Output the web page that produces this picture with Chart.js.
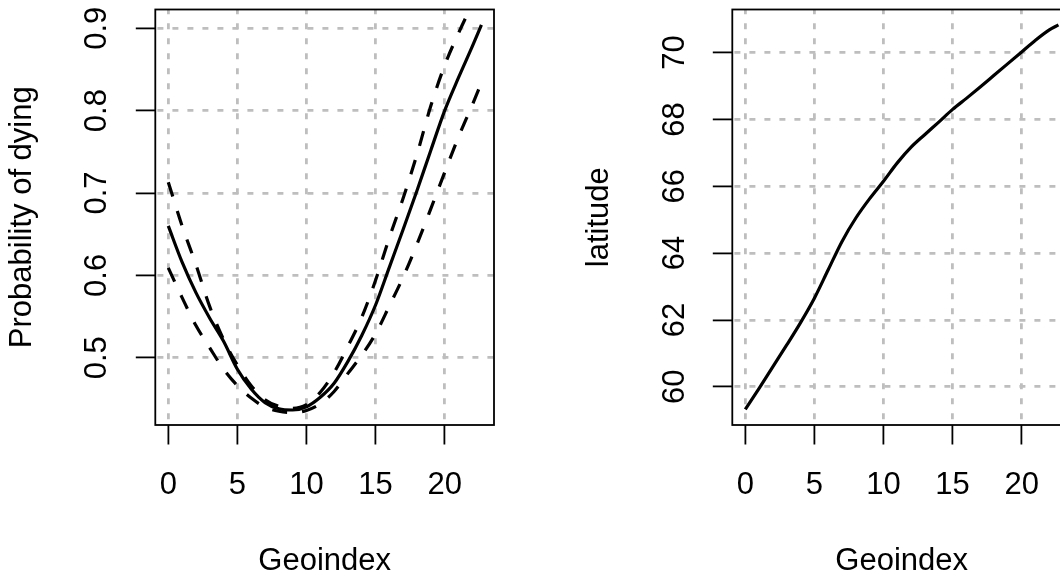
<!DOCTYPE html>
<html><head><meta charset="utf-8">
<script src="https://cdn.jsdelivr.net/npm/chart.js@4/dist/chart.umd.min.js"></script>
<style>
html,body{margin:0;padding:0;background:#fff;overflow:hidden;width:1060px;height:577px;position:relative;}
#p1{position:absolute;left:0;top:0;width:577px;height:577px;}
#p2{position:absolute;left:577px;top:0;width:577px;height:577px;}
canvas{display:block;}
</style></head><body>
<div id="p1"><canvas id="c1" width="577" height="577"></canvas></div>
<div id="p2"><canvas id="c2" width="577" height="577"></canvas></div>
<script>
// ---- data ----
const geoindex  = [0,1,2,3,4,5,6,7,8,9,10,11,12,13,14,15,16,17,18,19,20,21,22,22.66];
const probFit   = [0.660,0.616,0.579,0.548,0.520,0.486,0.462,0.4455,0.438,0.4365,0.4405,0.452,0.469,0.4955,0.527,0.564,0.610,0.656,0.703,0.752,0.800,0.840,0.878,0.904];
const probUpper = [0.713,0.660,0.613,0.562,0.522,0.491,0.466,0.449,0.441,0.4385,0.443,0.458,0.482,0.514,0.549,0.594,0.646,0.694,0.747,0.806,0.855,0.894,0.929,0.950];
const probLower = [0.609,0.573,0.539,0.512,0.486,0.466,0.451,0.440,0.435,0.4335,0.436,0.444,0.459,0.481,0.503,0.529,0.563,0.598,0.638,0.681,0.725,0.768,0.807,0.834];
const latitude  = [59.32,59.95,60.60,61.25,61.92,62.65,63.50,64.35,65.05,65.63,66.15,66.70,67.17,67.55,67.92,68.30,68.63,68.97,69.32,69.67,70.02,70.37,70.68,70.83];
const xTicks    = [0,5,10,15,20];
const probTicks = [0.5,0.6,0.7,0.8,0.9];
const latTicks  = [60,62,64,66,68,70];

const FONT = "'Liberation Sans', Arial, sans-serif";
const GRID = '#bebebe';

const boxPlugin = {
  id: 'box',
  afterDatasetsDraw(chart) {
    const {ctx, chartArea: {left, top, right, bottom}} = chart;
    ctx.save();
    ctx.strokeStyle = '#000';
    ctx.lineWidth = 1.8;
    ctx.strokeRect(left, top, right - left, bottom - top);
    ctx.restore();
  }
};

function pts(ys) { return geoindex.map((x, i) => ({x: x, y: ys[i]})); }

function makeChart(id, datasets, yMin, yMax, yTicks, yTitle, yPad) {
  return new Chart(document.getElementById(id), {
    type: 'line',
    data: {datasets: datasets},
    options: {
      responsive: false, animation: false, devicePixelRatio: 1,
      layout: {padding: {left: 0, top: 9.5, right: 83, bottom: 0}},
      plugins: {legend: {display: false}, tooltip: {enabled: false}},
      elements: {point: {radius: 0}, line: {borderWidth: 3.2, borderColor: '#000', cubicInterpolationMode: 'monotone', fill: false}},
      scales: {
        x: {
          type: 'linear', position: 'bottom', min: -0.94, max: 23.57,
          afterBuildTicks: s => { s.ticks = xTicks.map(v => ({value: v})); },
          afterFit: s => { s.height = 152; s.paddingLeft = 0; s.paddingRight = 0; },
          ticks: {font: {family: FONT, size: 31}, color: '#000', padding: 22.2, maxRotation: 0, minRotation: 0, autoSkip: false, callback: v => String(v)},
          grid: {color: GRID, lineWidth: 2.8, drawTicks: true, tickLength: 19.5, tickWidth: 1.8, tickColor: '#000'},
          border: {display: false, dash: [6, 9], dashOffset: 1.2},
          title: {display: true, text: 'Geoindex', color: '#000', font: {family: FONT, size: 31, lineHeight: 1}, padding: {top: 0, bottom: 0}}
        },
        y: {
          type: 'linear', position: 'left', min: yMin, max: yMax,
          afterBuildTicks: s => { s.ticks = yTicks.map(v => ({value: v})); },
          afterFit: s => { s.width = 155.3; s.paddingTop = 0; s.paddingBottom = 0; },
          ticks: {font: {family: FONT, size: 31}, color: '#000', padding: yPad, minRotation: 90, maxRotation: 90, crossAlign: 'center', autoSkip: false, callback: v => String(v)},
          grid: {color: GRID, lineWidth: 2.8, drawTicks: true, tickLength: 19.5, tickWidth: 1.8, tickColor: '#000'},
          border: {display: false, dash: [6, 9], dashOffset: 12.6},
          title: {display: true, text: yTitle, color: '#000', font: {family: FONT, size: 31, lineHeight: 1}, padding: {top: 7.3, bottom: 0}}
        }
      }
    },
    plugins: [boxPlugin]
  });
}

makeChart('c1', [
  {label: 'fit',   data: pts(probFit),   borderColor: '#000', borderWidth: 3.2},
  {label: 'upper', data: pts(probUpper), borderColor: '#000', borderWidth: 3.2, borderDash: [15, 15]},
  {label: 'lower', data: pts(probLower), borderColor: '#000', borderWidth: 3.2, borderDash: [15, 15]}
], 0.4183, 0.9228, probTicks, 'Probability of dying', 16.3);

makeChart('c2', [
  {label: 'latitude', data: pts(latitude), borderColor: '#000', borderWidth: 3.2}
], 58.855, 71.29, latTicks, 'latitude', 20.1);
</script>
</body></html>
